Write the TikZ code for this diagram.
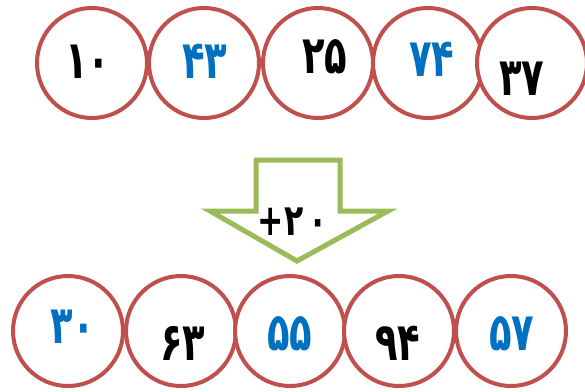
\documentclass[tikz,border=0pt]{standalone}
\usepackage{fontspec}
\usepackage{graphicx}
\newfontfamily\pfont{DejaVu Sans}
\newcommand{\pnum}[1]{\scalebox{1.12}[1.6]{#1}}
\definecolor{cred}{RGB}{192,80,77}
\definecolor{cblue}{RGB}{0,112,192}
\definecolor{cgreen}{RGB}{155,187,89}
\begin{document}
\begin{tikzpicture}[x=1pt,y=-1pt,
  ring/.style={circle,draw=cred,line width=4pt,fill=white,minimum size=110pt,inner sep=0pt},
  num/.style={font=\pfont\bfseries\fontsize{33}{40}\selectfont,inner sep=0pt},
  bl/.style={num,text=cblue},
  bk/.style={num,text=black}]
\useasboundingbox (0,0) rectangle (585,391);
% top row
\node[ring] (t1) at (92,63) {};
\node[ring] (t2) at (204,63) {};
\node[ring] (t3) at (318,63) {};
\node[ring] (t4) at (428,63) {};
\node[ring] (t5) at (532,63) {};
\node[bk] (n1) at (88,62) {\pnum{۱۰}};
\node[bl] (n2) at (205,61) {\pnum{۴۳}};
\node[bk] (n3) at (325,57) {\pnum{۲۵}};
\node[bl] (n4) at (432,59) {\pnum{۷۴}};
\node[bk] (n5) at (522,79) {\pnum{۳۷}};
% arrow
\draw[cgreen,line width=5pt,fill=white,line join=miter]
  (256,160) -- (340,160) -- (340,211) -- (388,211) -- (297,261) -- (210,211) -- (256,211) -- cycle;
\node[bk,font=\pfont\bfseries\fontsize{30}{36}\selectfont] (op) at (293,222) {\scalebox{1.05}[1.45]{+۲\,۰}};
% bottom row
\node[ring] (b1) at (68,331) {};
\node[ring] (b2) at (181,331) {};
\node[ring] (b3) at (290,331) {};
\node[ring] (b4) at (399,331) {};
\node[ring] (b5) at (511,331) {};
\node[bl] (m1) at (73,327) {\pnum{۳۰}};
\node[bk] (m2) at (183,343) {\pnum{۶۳}};
\node[bl] (m3) at (290,334) {\pnum{۵۵}};
\node[bk] (m4) at (398,343) {\pnum{۹۴}};
\node[bl] (m5) at (512,334) {\pnum{۵۷}};
\end{tikzpicture}
\end{document}
